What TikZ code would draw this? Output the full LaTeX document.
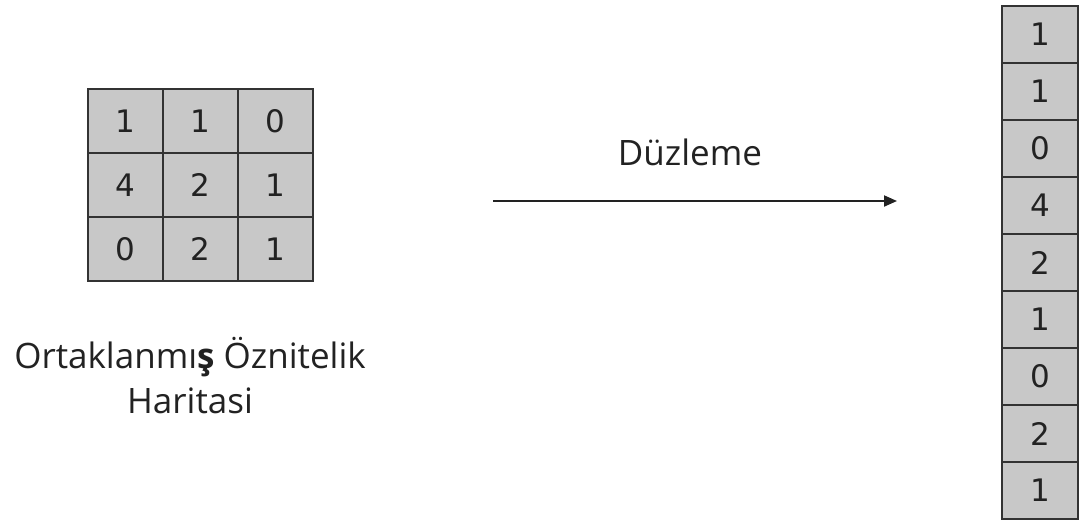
\documentclass[tikz,border=0pt]{standalone}
\usepackage{fontspec}
\setmainfont{Open Sans}
\newfontfamily\digitfont{DejaVu Sans}
\usetikzlibrary{arrows.meta}
\definecolor{cellfill}{HTML}{C8C8C8}
\definecolor{cellline}{HTML}{333333}
\definecolor{ink}{HTML}{222222}
\tikzset{
  cell/.style={draw=cellline, fill=cellfill, line width=1.8pt, inner sep=0pt,
    text=ink, font=\digitfont\fontsize{31}{33}\selectfont},
  gridcell/.style={cell, minimum width=75pt, minimum height=64pt},
  colcell/.style={cell, minimum width=76pt, minimum height=57pt},
  label/.style={text=ink, font=\fontsize{35}{45}\selectfont, inner sep=0pt},
  flow/.style={draw=ink, line width=2pt, -{Triangle[length=13pt,width=11pt]}}
}
\begin{document}
\begin{tikzpicture}[x=1pt,y=-1pt]
  \useasboundingbox (0,0) rectangle (1080,523);
  % 3x3 pooled feature map
  \foreach \v [count=\i from 0] in {1,1,0,4,2,1,0,2,1} {
    \pgfmathtruncatemacro{\r}{int(\i/3)}
    \pgfmathtruncatemacro{\c}{mod(\i,3)}
    \node[gridcell] (g\i) at ({125.5+75*\c},{121+64*\r}) {\v};
  }
  % flattened column vector
  \foreach \v [count=\k from 0] in {1,1,0,4,2,1,0,2,1} {
    \node[colcell] (f\k) at (1040,{34.5+57*\k}) {\v};
  }
  % caption under the map
  \node[label, anchor=base] (cap1) at (190,368) {Ortaklanmı{\bfseries ş} Öznitelik};
  \node[label, anchor=base] (cap2) at (190,413) {Haritasi};
  % flattening arrow
  \coordinate (a0) at (493,201);
  \coordinate (a1) at (897,201);
  \draw[flow] (a0) -- (a1);
  \node[label, anchor=base] (flat) at (690,165) {Düzleme};
\end{tikzpicture}
\end{document}
